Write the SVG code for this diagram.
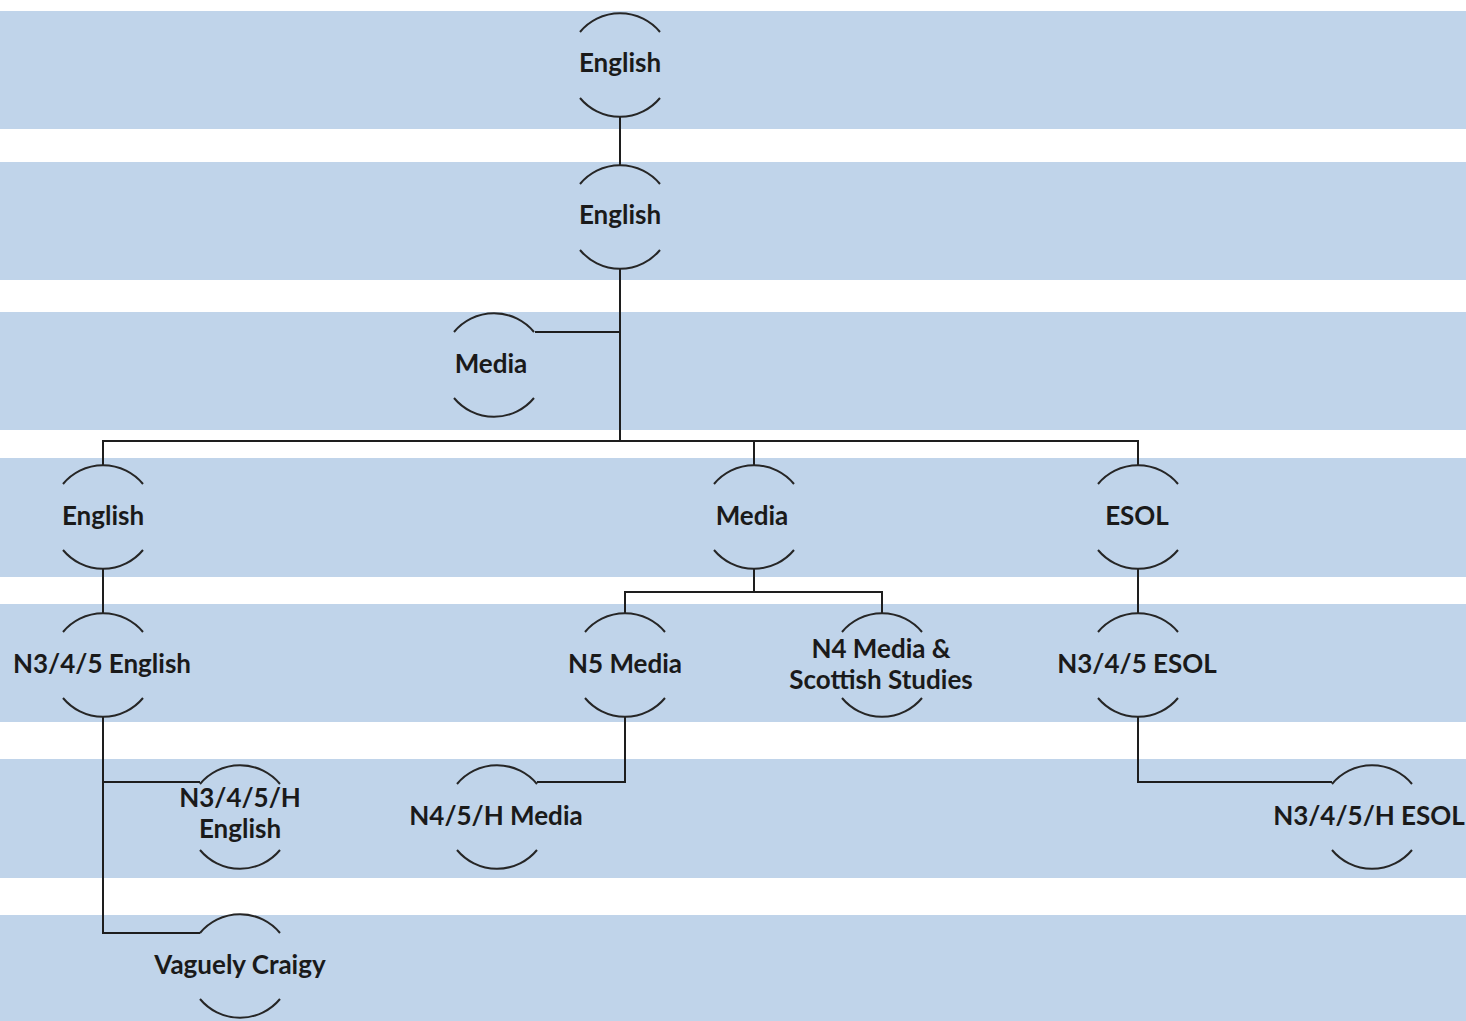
<svg xmlns="http://www.w3.org/2000/svg" xmlns:xlink="http://www.w3.org/1999/xlink" width="1466" height="1021" viewBox="0 0 1466 1021">
<style>
.band{fill:#c0d4ea;}
.arc{fill:none;stroke:#262626;stroke-width:2;}
.conn{fill:none;stroke:#1e1e1e;stroke-width:2;}
.lbl{font-family:Lato,"Liberation Sans",sans-serif;font-weight:700;font-size:26px;fill:#1a1a1a;text-anchor:middle;}
</style>
<defs>
<g id="arcs">
<path class="arc" d="M -40 -33 A 52 52 0 0 1 40 -33"/>
<path class="arc" d="M -40 33 A 52 52 0 0 0 40 33"/>
</g>
</defs>
<rect width="1466" height="1021" fill="#ffffff"/>
<g id="bands">
<rect class="band" x="0" y="11" width="1466" height="118"/>
<rect class="band" x="0" y="162" width="1466" height="118"/>
<rect class="band" x="0" y="312" width="1466" height="118"/>
<rect class="band" x="0" y="458" width="1466" height="119"/>
<rect class="band" x="0" y="604" width="1466" height="118"/>
<rect class="band" x="0" y="759" width="1466" height="119"/>
<rect class="band" x="0" y="915" width="1466" height="106"/>
</g>
<g id="connectors">
<path class="conn" d="M 620 117 V 165"/>
<path class="conn" d="M 620 269 V 441"/>
<path class="conn" d="M 620 332 H 535"/>
<path class="conn" d="M 103 465 V 441 H 1138 V 465"/>
<path class="conn" d="M 754 465 V 441"/>
<path class="conn" d="M 103 569 V 613"/>
<path class="conn" d="M 754 569 V 592"/>
<path class="conn" d="M 625 613 V 592 H 882 V 613"/>
<path class="conn" d="M 1138 569 V 613"/>
<path class="conn" d="M 103 717 V 933 H 200"/>
<path class="conn" d="M 103 782 H 200"/>
<path class="conn" d="M 625 717 V 782 H 537"/>
<path class="conn" d="M 1138 717 V 782 H 1332"/>
</g>
<g id="n-english-top"><use xlink:href="#arcs" x="620" y="65"/><text class="lbl" x="620" y="72">English</text></g>
<g id="n-english-2"><use xlink:href="#arcs" x="620" y="217"/><text class="lbl" x="620" y="224">English</text></g>
<g id="n-media-side"><use xlink:href="#arcs" x="494" y="365"/><text class="lbl" x="491" y="373">Media</text></g>
<g id="n-english-3"><use xlink:href="#arcs" x="103" y="517"/><text class="lbl" x="103" y="525">English</text></g>
<g id="n-media-3"><use xlink:href="#arcs" x="754" y="517"/><text class="lbl" x="752" y="525">Media</text></g>
<g id="n-esol-3"><use xlink:href="#arcs" x="1138" y="517"/><text class="lbl" x="1137" y="525">ESOL</text></g>
<g id="n-n345-english"><use xlink:href="#arcs" x="103" y="665"/><text class="lbl" x="102" y="673">N3/4/5 English</text></g>
<g id="n-n5-media"><use xlink:href="#arcs" x="625" y="665"/><text class="lbl" x="625" y="673">N5 Media</text></g>
<g id="n-n4-media-scottish"><use xlink:href="#arcs" x="882" y="665"/><text class="lbl" x="881" y="658">N4 Media &amp;</text><text class="lbl" x="881" y="689">Scottish Studies</text></g>
<g id="n-n345-esol"><use xlink:href="#arcs" x="1138" y="665"/><text class="lbl" x="1137" y="673">N3/4/5 ESOL</text></g>
<g id="n-n345h-english"><use xlink:href="#arcs" x="240" y="817"/><text class="lbl" x="240" y="807">N3/4/5/H</text><text class="lbl" x="240" y="838">English</text></g>
<g id="n-n45h-media"><use xlink:href="#arcs" x="497" y="817"/><text class="lbl" x="496" y="825">N4/5/H Media</text></g>
<g id="n-n345h-esol"><use xlink:href="#arcs" x="1372" y="817"/><text class="lbl" x="1369" y="825">N3/4/5/H ESOL</text></g>
<g id="n-vaguely-craigy"><use xlink:href="#arcs" x="240" y="966"/><text class="lbl" x="240" y="974">Vaguely Craigy</text></g>
</svg>
